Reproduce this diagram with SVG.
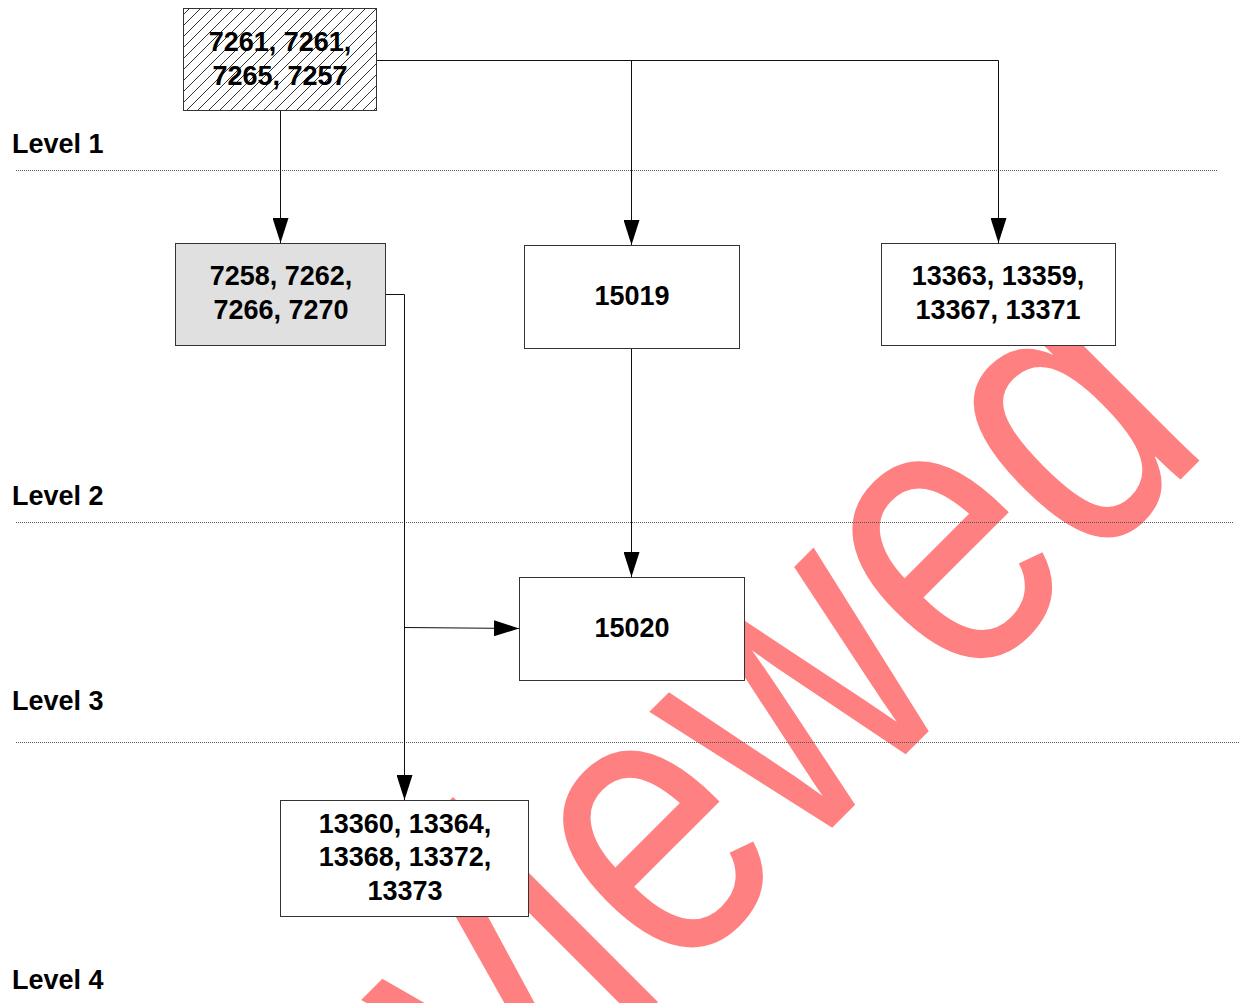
<svg xmlns="http://www.w3.org/2000/svg" width="1239" height="1003" viewBox="0 0 1239 1003">
<defs>
<style>
.box{stroke:#333;stroke-width:1;fill:#fff}
.t{font-family:"Liberation Sans",Arial,sans-serif;font-weight:bold;font-size:27px;fill:#000;text-anchor:middle}
.lvl{font-family:"Liberation Sans",Arial,sans-serif;font-weight:bold;font-size:27px;fill:#000}
.sep{stroke:#555;stroke-width:1;stroke-dasharray:1 1;fill:none}
.c{stroke:#111;stroke-width:1;fill:none}
.wm{font-family:"Liberation Sans",Arial,sans-serif;font-size:400px;fill:#ff8080}
</style>
<pattern id="hatch" patternUnits="userSpaceOnUse" width="11" height="11">
<rect width="11" height="11" fill="#fff"/>
<path d="M-1,1 L1,-1 M0,11 L11,0 M10,12 L12,10" stroke="#333" stroke-width="1"/>
</pattern>
<marker id="arr" markerUnits="userSpaceOnUse" markerWidth="26" markerHeight="16" refX="25" refY="8" orient="auto">
<path d="M0,0 L25,8 L0,16 z" fill="#000"/>
</marker>
</defs>
<rect width="1239" height="1003" fill="#fff"/>
<g id="watermark">
<text class="wm" transform="translate(509.8,1150.2) rotate(-45) scale(0.8,1)" x="0" y="0">viewed</text>
</g>
<g id="levels">
<line class="sep" x1="16" y1="170.5" x2="1218" y2="170.5"/>
<line class="sep" x1="16" y1="522.5" x2="1233" y2="522.5"/>
<line class="sep" x1="16" y1="742.5" x2="1239" y2="742.5"/>
<text class="lvl" x="12" y="153">Level 1</text>
<text class="lvl" x="12" y="505">Level 2</text>
<text class="lvl" x="12" y="710">Level 3</text>
<text class="lvl" x="12" y="989">Level 4</text>
</g>
<g id="connectors">
<path class="c" d="M377,60.5 H998.5 V243" marker-end="url(#arr)"/>
<path class="c" d="M631.5,60.5 V245" marker-end="url(#arr)"/>
<path class="c" d="M280.5,111 V243" marker-end="url(#arr)"/>
<path class="c" d="M386,294.5 H404.5 V800" marker-end="url(#arr)"/>
<path class="c" d="M404.5,627.5 L519,628.5" marker-end="url(#arr)"/>
<path class="c" d="M631.5,349 V577" marker-end="url(#arr)"/>
</g>
<g id="node-a">
<rect x="183.5" y="8.5" width="193" height="102" style="stroke:#333;stroke-width:1" fill="url(#hatch)"/>
<text class="t" x="280" y="51">7261, 7261,</text>
<text class="t" x="280" y="85">7265, 7257</text>
</g>
<g id="node-b">
<rect class="box" x="175.5" y="243.5" width="210" height="102" style="fill:#e0e0e0"/>
<text class="t" x="281" y="285">7258, 7262,</text>
<text class="t" x="281" y="319">7266, 7270</text>
</g>
<g id="node-c">
<rect class="box" x="524.5" y="245.5" width="215" height="103"/>
<text class="t" x="632" y="305">15019</text>
</g>
<g id="node-d">
<rect class="box" x="881.5" y="243.5" width="234" height="102"/>
<text class="t" x="998" y="285">13363, 13359,</text>
<text class="t" x="998" y="319">13367, 13371</text>
</g>
<g id="node-e">
<rect class="box" x="519.5" y="577.5" width="225" height="103"/>
<text class="t" x="632" y="637">15020</text>
</g>
<g id="node-f">
<rect class="box" x="280.5" y="800.5" width="248" height="116"/>
<text class="t" x="405" y="833">13360, 13364,</text>
<text class="t" x="405" y="866">13368, 13372,</text>
<text class="t" x="405" y="900">13373</text>
</g>
</svg>
